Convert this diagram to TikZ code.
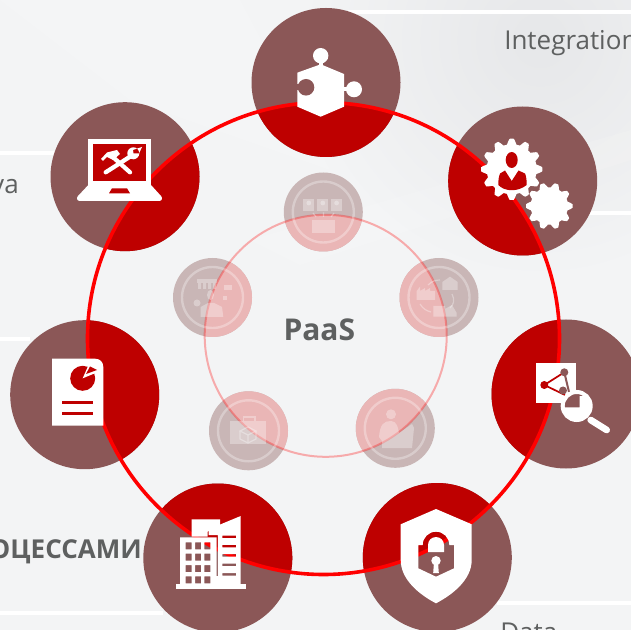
\documentclass[tikz,border=0pt]{standalone}
\usepackage{fontspec}
\setmainfont{Open Sans}
\definecolor{discred}{RGB}{190,0,0}
\definecolor{discbrown}{RGB}{139,87,87}
\definecolor{ringred}{RGB}{255,0,0}
\definecolor{paleback}{RGB}{243,244,245}
\definecolor{darkback}{RGB}{230,231,233}
\definecolor{labelgrey}{RGB}{94,96,96}
\definecolor{softbrown}{RGB}{201,182,182}
\definecolor{softpink}{RGB}{234,182,182}
\tikzset{
  whiteline/.style={draw=white,line width=3},
  bigdisc/.style={fill=discbrown},
  bigdiscin/.style={fill=discred},
  softdisc/.style={fill=softbrown},
  softdiscin/.style={fill=softpink},
  softring/.style={draw=white,draw opacity=0.3,line width=1.8},
  softicon/.style={fill=white,fill opacity=0.32},
  softstroke/.style={draw=white,draw opacity=0.32,line width=0.9},
  icon/.style={fill=white},
  iconred/.style={fill=discred},
  caption/.style={anchor=base west,inner sep=0pt,text=labelgrey,font=\fontsize{19.5}{22}\selectfont},
}

\begin{document}
\begin{tikzpicture}[x=0.75pt,y=0.75pt,yscale=-1,xscale=1]
\useasboundingbox (0,0) rectangle (631,630);
\clip (0,0) rectangle (631,630);

%Shape: Background
\fill [paleback] (0,0) rectangle (631,630);
\shade [inner color=darkback,outer color=paleback] (540,40) circle (240);
\fill [white,opacity=0.12] (0,0) -- (240,0) -- (330,170) -- (130,100) -- cycle;
\fill [white,opacity=0.12] (250,240) -- (631,130) -- (631,160) -- (300,265) -- cycle;

%Shape: Lines behind the discs
\draw [whiteline] (348,12) -- (631,12);
\draw [whiteline] (587,212.7) -- (631,212.7);
\draw [whiteline] (0,152.7) -- (55,152.7);
\draw [whiteline] (0,339) -- (30,339);
\draw [whiteline] (0,613.3) -- (163,613.3);
\draw [whiteline] (496.7,602.7) -- (631,602.7);

%Shape: Big discs
\fill [bigdisc] (326,82.5) circle (74.5);
\fill [bigdisc] (522.7,181) circle (74.5);
\fill [bigdisc] (566,394) circle (74.5);
\fill [bigdisc] (437.3,557.5) circle (74.5);
\fill [bigdisc] (217.8,558) circle (74.5);
\fill [bigdisc] (84.7,394.7) circle (74.5);
\fill [bigdisc] (125,176.7) circle (74.5);

%Shape: Big discs, part inside the ring
\begin{scope}
\clip (323.5,338.5) circle (236);
\fill [bigdiscin] (326,82.5) circle (74.5);
\fill [bigdiscin] (522.7,181) circle (74.5);
\fill [bigdiscin] (566,394) circle (74.5);
\fill [bigdiscin] (437.3,557.5) circle (74.5);
\fill [bigdiscin] (217.8,558) circle (74.5);
\fill [bigdiscin] (84.7,394.7) circle (74.5);
\fill [bigdiscin] (125,176.7) circle (74.5);
\end{scope}

%Shape: Ring
\draw [ringred,line width=2.7] (323.5,338.5) circle (236);

%Shape: Small discs
\fill [softdisc] (323.3,212) circle (39.5);
\fill [softdisc] (439,297.5) circle (39.5);
\fill [softdisc] (395.3,428.3) circle (39.5);
\fill [softdisc] (248.5,430.8) circle (39.5);
\fill [softdisc] (212.5,297.5) circle (39.5);

%Shape: Small discs, part inside the pale circle
\begin{scope}
\clip (325.7,335.8) circle (121);
\fill [softdiscin] (323.3,212) circle (39.5);
\fill [softdiscin] (439,297.5) circle (39.5);
\fill [softdiscin] (395.3,428.3) circle (39.5);
\fill [softdiscin] (248.5,430.8) circle (39.5);
\fill [softdiscin] (212.5,297.5) circle (39.5);
\end{scope}

%Shape: Pale circle
\draw [red,draw opacity=0.3,line width=1.5] (325.7,335.8) circle (121);

%Shape: Rings in the small discs
\draw [softring] (323.3,212) circle (30.5);
\draw [softring] (439,297.5) circle (30.5);
\draw [softring] (395.3,428.3) circle (30.5);
\draw [softring] (248.5,430.8) circle (30.5);
\draw [softring] (212.5,297.5) circle (30.5);

%Small icon: people and board
\fill [softicon] (303.3,199.3) rectangle (314.3,210.7);
\fill [softicon] (317.3,199.3) rectangle (328.3,210.7);
\fill [softicon] (331,199.3) rectangle (342.3,210.7);
\fill [softicon] (308.8,203) circle (2.4) (322.8,203) circle (2.4) (336.6,203) circle (2.4);
\fill [softicon] (311.7,220) rectangle (335,233.3);
\draw [softstroke] (313,213) -- (316,217) (323.5,212.5) -- (323.5,217) (334,213) -- (331,217);

%Small icon: factory, house and truck
\fill [softicon] (416.7,300) -- (416.7,291) -- (420,286.7) -- (420,291) -- (425,288) -- (425,291) -- (430,288) -- (430,291) -- (435,291) -- (435,300) -- cycle;
\fill [softicon] (442.3,290) -- (442.3,282) -- (450,276.7) -- (457.7,282) -- (457.7,290) -- cycle;
\fill [softicon] (433.3,316.7) -- (433.3,306) -- (445,306) -- (445,309) -- (452,305) -- (456.7,313) -- (456.7,316.7) -- cycle;
\draw [softstroke] (428,285) .. controls (432,281) and (436,280) .. (440,280);
\draw [softstroke] (452,294) .. controls (455,300) and (454,304) .. (450,308);
\draw [softstroke] (420,304) .. controls (423,309) and (427,311) .. (431,312);

%Small icon: speaker
\fill [softicon] (391,414.3) circle (5);
\fill [softicon] (379,437) .. controls (380,424) and (384,421) .. (391,421) .. controls (397,421) and (398,428) .. (399,433) -- (412,424) -- (414,428) -- (412,448) -- (382,448) -- (382,441) -- cycle;

%Small icon: case and box
\fill [softicon] (230,421) rectangle (265.7,444.3);
\draw [softstroke] (243.5,421) -- (243.5,417) -- (255,417) -- (255,421);
\draw [softstroke] (240,431) -- (248,427) -- (256,431) -- (248,435) -- cycle (240,431) -- (240,439) -- (248,443) -- (256,439) -- (256,431) (248,435) -- (248,443);

%Small icon: manager and charts
\fill [softicon] (197.3,279) rectangle (216.7,283);
\fill [softicon] (198,283) rectangle (201,289) (203,283) rectangle (206,289) (208,283) rectangle (211,289) (213,283) rectangle (216,289);
\fill [softicon] (224,285) rectangle (232,290.5);
\fill [softicon] (222.5,296) rectangle (226.5,300);
\fill [softicon] (197,303) circle (3.5);
\fill [softicon] (210.5,295) ellipse (3.5 and 5);
\fill [softicon] (200.7,317) -- (200.7,307) -- (208,303) -- (214,303) -- (222,307) -- (223.3,317) -- cycle;

%Icon: Puzzle piece
\fill [icon] (320.7,55.7) circle (7.7);
\fill [icon] (354,89.3) circle (8);
\fill [icon] (318.7,60) rectangle (322.7,68);
\fill [icon] (342,87.3) rectangle (350,91.3);
\fill [icon] (297.3,72.7) -- (320.7,64.3) -- (344,74) -- (344,106.7) -- (320.7,116.7) -- (297.3,106.7) -- cycle;
\fill [discbrown] (306,87.3) circle (8.3);
\fill [discbrown] (296.8,84.5) rectangle (303,90.5);

%Icon: Gears
\fill [icon,shift={(511.7,169.3)}] plot [smooth cycle,samples=96,domain=0:356.25] (\x:{27.8+2.8*min(1,max(-1,1.7*cos(12*\x)))});
\fill [icon,shift={(549.3,206)}] plot [smooth cycle,samples=80,domain=0:355.5] (\x:{21+2.3*min(1,max(-1,1.7*cos(10*\x)))});
\fill [iconred] (511.7,160) ellipse (6 and 8);
\fill [iconred] (505,170.5) -- (511.7,181) -- (518.5,170.5) -- (525,173.5) .. controls (526.5,177) and (526.7,181) .. (526.7,185) .. controls (518,192) and (505,192) .. (498.3,185) .. controls (498.3,181) and (498.5,177) .. (500,173.5) -- cycle;

%Icon: Laptop
\fill [icon] (88.3,139) rectangle (151,186);
\fill [icon] (88.3,185) -- (151,185) -- (161,196) .. controls (163,198) and (162,201) .. (159,201) -- (80,201) .. controls (77,201) and (76,198) .. (78,196) -- cycle;
\fill [iconred] (93.3,144) rectangle (146,181);
\fill [iconred] (112,188.3) -- (127,188.3) -- (130,193.3) -- (109,193.3) -- cycle;
\draw [white,line width=3.2,line cap=round] (130,172.3) -- (111.7,156);
\draw [white,line width=3.2,line cap=round] (105.7,172.3) -- (130,156.7);
\fill [icon] (101,159) -- (107,152.5) -- (117,150) -- (120,154) -- (113,160) -- (107,157) -- (103,161) -- cycle;
\fill [icon,even odd rule] (133.3,153.3) circle (6) (133,150) -- (142,147) -- (139,153.5) -- (133.5,153.5) -- cycle;

%Icon: Report
\fill [icon] (52,358.7) -- (95,358.7) .. controls (100,358.7) and (103.3,362) .. (103.3,367) -- (103.3,425.7) -- (52,425.7) -- cycle;
\fill [iconred] (82.7,378.3) circle (12.5);
\fill [icon] (82.7,378.3) -- (89,364) -- (100,368) -- (98,372) -- cycle;
\fill [iconred] (86,374) -- (90,366.5) -- (97,370) -- cycle;
\draw [discred,line width=2.2] (62.3,402.3) -- (93,402.3);
\draw [discred,line width=2.2] (62.3,413.7) -- (93,413.7);

%Icon: Building
\fill [icon] (175.7,584.3) rectangle (245.7,589.3);
\fill [icon] (191.7,519.3) -- (220,519.3) -- (220,526.6) -- (207.5,531.6) -- (207.5,536.7) -- (191.7,536.7) -- cycle;
\fill [icon,even odd rule] (180,537.3) rectangle (216.7,584.3)
  (185.7,542.3) rectangle (191.7,549.3) (195,542.3) rectangle (201,549.3) (204.3,542.3) rectangle (210.3,549.3)
  (185.7,553.7) rectangle (191.7,560.7) (195,553.7) rectangle (201,560.7) (204.3,553.7) rectangle (210.3,560.7)
  (185.7,565) rectangle (191.7,572) (195,565) rectangle (201,572) (204.3,565) rectangle (210.3,572)
  (185.7,576.3) rectangle (191.7,583.3) (195,576.3) rectangle (201,583.3) (204.3,576.3) rectangle (210.3,583.3);
\fill [icon,even odd rule] (208.6,529.3) -- (240.7,516) -- (240.7,585) -- (217.8,585) -- (217.8,535) -- (208.6,535) -- cycle
  (222.3,535.5) rectangle (236,538)
  (222.3,544.8) rectangle (236,547.3)
  (222.3,554.1) rectangle (236,556.6)
  (222.3,563.5) rectangle (236,566)
  (222.3,573.1) rectangle (236,575.6);
\fill [icon] (215.5,576) rectangle (218.5,585);

%Icon: Shield and lock
\fill [icon,even odd rule] (436,509) -- (471.7,524.3) -- (471.7,560) .. controls (471.7,580) and (452,595) .. (436,603.3) .. controls (420,595) and (400.7,580) .. (400.7,560) -- (400.7,524.3) -- cycle
  (418.3,545) -- (422.7,545) arc [start angle=180,end angle=360,radius=13.3] -- (454,545) -- (454,568.3) -- (436,576.7) -- (418.3,568.3) -- cycle
  (428,552) -- (428,545) arc [start angle=180,end angle=360,radius=8] -- (444,552) -- cycle;
\fill [icon] (436,560.7) circle (4.7);
\fill [icon] (434,562) -- (438,562) -- (438.8,573) -- (433.2,573) -- cycle;

%Icon: Network and lens
\fill [icon] (535.7,362.7) rectangle (575.7,402.7);
\draw [discred,line width=1.3] (564.3,372.3) -- (544.3,385) -- (565,395);
\draw [discbrown,line width=1.5] (564.3,372.3) -- (569,392);
\fill [iconred] (544.3,385) circle (4);
\fill [discbrown] (564.3,372.3) circle (4);
\fill [discbrown] (563,390.5) circle (4);
\fill [discbrown] (576.7,406) circle (14);
\begin{scope}
\clip (576.7,406) circle (13);
\fill [icon] (564,407.3) -- (579.5,407.3) -- (579.5,396) -- (591,396) -- (591,421) -- (564,421) -- cycle;
\end{scope}
\draw [white,line width=3] (576.7,406) circle (14);
\draw [white,line width=5,line cap=round] (590.7,420) -- (606.7,430);

% Text Node
\node (paaslabel) [anchor=base,inner sep=0pt,text=labelgrey,font=\fontsize{22.5}{28}\bfseries\selectfont] at (319.3,341) {PaaS};
% Text Node
\node (integrationlabel) [caption] at (504,50) {Integration};
% Text Node
\node (valabel) [caption,anchor=base east] at (19,194) {va};
% Text Node
\node (processlabel) [caption,anchor=base east,font=\fontsize{19.5}{22}\bfseries\selectfont] at (142,558.3) {ОЦЕССАМИ};
% Text Node
\node (datalabel) [caption] at (500,641) {Data};

\end{tikzpicture}
\end{document}
